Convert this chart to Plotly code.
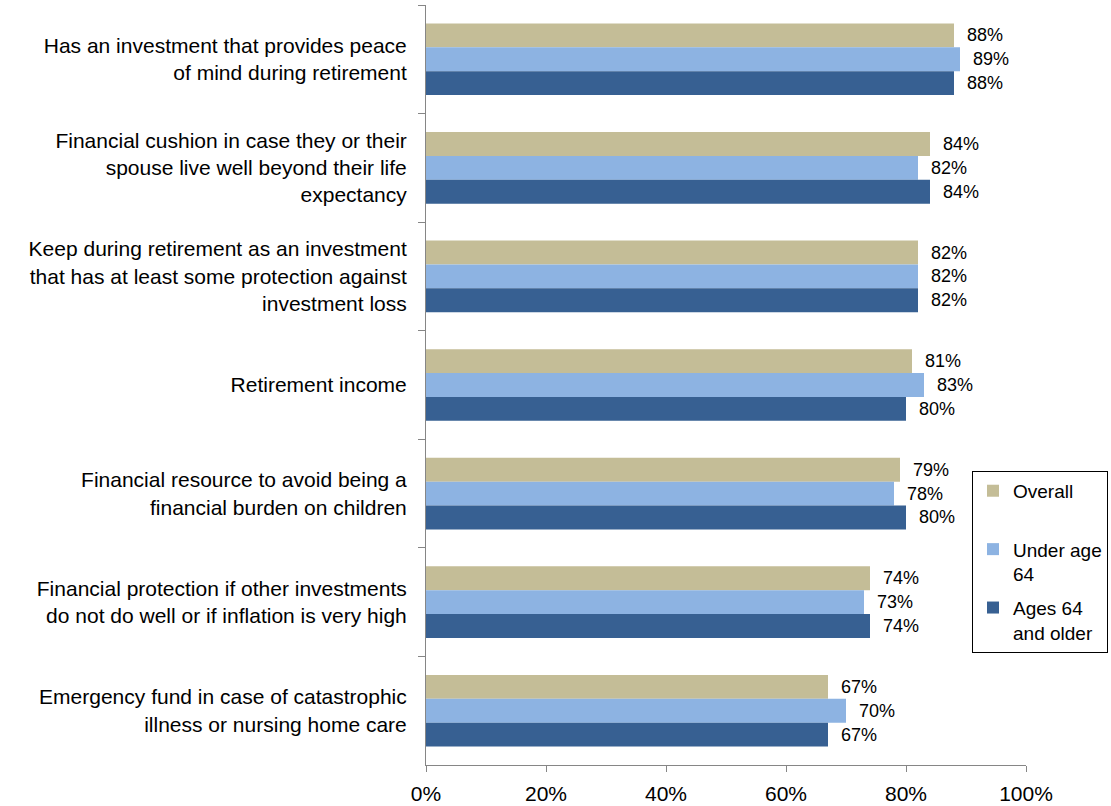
import plotly.graph_objects as go

categories = [
    "Has an investment that provides peace<br>of mind during retirement",
    "Financial cushion in case they or their<br>spouse live well beyond their life<br>expectancy",
    "Keep during retirement as an investment<br>that has at least some protection against<br>investment loss",
    "Retirement income",
    "Financial resource to avoid being a<br>financial burden on children",
    "Financial protection if other investments<br>do not do well or if inflation is very high",
    "Emergency fund in case of catastrophic<br>illness or nursing home care",
]
overall = [88, 84, 82, 81, 79, 74, 67]
under_64 = [89, 82, 82, 83, 78, 73, 70]
ages_64_older = [88, 84, 82, 80, 80, 74, 67]

x_ticks = [0, 20, 40, 60, 80, 100]
x_tick_labels = ["0%", "20%", "40%", "60%", "80%", "100%"]

series = [
    ("Overall<br>&nbsp;", overall, "#C4BD97"),
    ("Under age<br>64", under_64, "#8DB3E2"),
    ("Ages 64<br>and older", ages_64_older, "#376092"),
]

FONT = "Arial, Liberation Sans, sans-serif"

fig = go.Figure()
for i, (name, vals, color) in enumerate(series):
    fig.add_trace(go.Bar(
        y=categories,
        x=vals,
        name=name,
        legendgroup=f"g{i}",
        orientation="h",
        marker=dict(color=color, line=dict(width=0)),
        text=[f"\u00a0\u00a0{v}%" for v in vals],
        textposition="outside",
        textfont=dict(family=FONT, size=18, color="#000000"),
        cliponaxis=False,
    ))

fig.update_layout(
    width=1111,
    height=806,
    margin=dict(l=426, r=85, t=5, b=41, autoexpand=False),
    paper_bgcolor="white",
    plot_bgcolor="white",
    barmode="group",
    bargap=0.34,
    bargroupgap=0,
    font=dict(family=FONT, size=18, color="#000000"),
    showlegend=True,
    legend=dict(
        x=0.91,
        y=0.387,
        xanchor="left",
        yanchor="top",
        bordercolor="#000000",
        borderwidth=1,
        bgcolor="white",
        font=dict(family=FONT, size=19, color="#000000"),
        valign="top",
        itemwidth=30,
        traceorder="grouped",
        tracegroupgap=6,
    ),
)

fig.update_xaxes(
    range=[0, 100],
    tickvals=x_ticks,
    ticktext=x_tick_labels,
    showgrid=False,
    zeroline=False,
    showline=True,
    linecolor="#868686",
    linewidth=1,
    ticks="outside",
    ticklen=6,
    tickcolor="#868686",
    tickfont=dict(family=FONT, size=21, color="#000000"),
    ticklabelstandoff=4,
)

fig.update_yaxes(
    autorange="reversed",
    type="category",
    showgrid=False,
    showline=True,
    linecolor="#868686",
    linewidth=1,
    ticks="outside",
    tickson="boundaries",
    ticklen=7,
    tickcolor="#868686",
    tickfont=dict(family=FONT, size=21, color="#000000"),
    ticklabelstandoff=14,
)

fig.write_html("out.html")
